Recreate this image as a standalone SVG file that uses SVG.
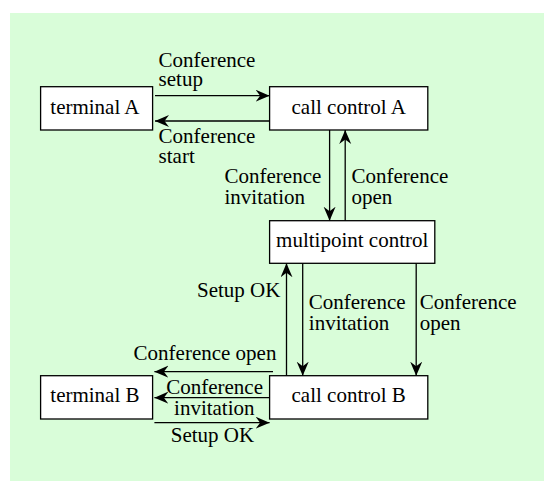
<svg xmlns="http://www.w3.org/2000/svg" width="544" height="481" viewBox="0 0 544 481">
<defs>
<style>
.bg{fill:#d9fdd9}
.box{fill:#fff;stroke:#000;stroke-width:1.3}
.c{stroke:#000;stroke-width:1.3;fill:none;marker-end:url(#ah)}
</style>
<marker id="ah" markerUnits="userSpaceOnUse" markerWidth="15" markerHeight="13" refX="14" refY="6" orient="auto">
<path d="M0,0 L14,6 L0,12 L4.5,6 z" fill="#000"/>
</marker>
</defs>
<rect class="bg" x="10" y="13" width="534" height="468"/>
<g font-family="Liberation Serif, Times New Roman, Times, serif" font-size="21" fill="#000">
<g id="terminalA"><rect class="box" x="40.6" y="86.7" width="112" height="43.3"/><text x="50.3" y="113.5">terminal A</text></g>
<g id="callControlA"><rect class="box" x="269.6" y="86.7" width="158.2" height="43.3"/><text x="348.7" y="113.5" text-anchor="middle">call control A</text></g>
<g id="multipointControl"><rect class="box" x="269.6" y="220.7" width="165.2" height="42.6"/><text x="352.2" y="247" text-anchor="middle">multipoint control</text></g>
<g id="terminalB"><rect class="box" x="40.6" y="375.7" width="112" height="43.3"/><text x="50.3" y="402">terminal B</text></g>
<g id="callControlB"><rect class="box" x="269.6" y="375.7" width="158.2" height="43.3"/><text x="348.7" y="402" text-anchor="middle">call control B</text></g>
</g>
<g id="connectors">
<line class="c" x1="155" y1="95.7" x2="269.6" y2="95.7"/>
<line class="c" x1="269.6" y1="121" x2="155" y2="121"/>
<line class="c" x1="329.6" y1="130" x2="329.6" y2="220.7"/>
<line class="c" x1="345.2" y1="220.7" x2="345.2" y2="130"/>
<line class="c" x1="286.5" y1="375.7" x2="286.5" y2="263.3"/>
<line class="c" x1="302.7" y1="263.3" x2="302.7" y2="375.7"/>
<line class="c" x1="416.2" y1="263.3" x2="416.2" y2="375.7"/>
<line class="c" x1="273" y1="371.7" x2="154.4" y2="371.7"/>
<line class="c" x1="269.6" y1="397.7" x2="154.4" y2="397.7"/>
<line class="c" x1="154.4" y1="422.7" x2="269.6" y2="422.7"/>
</g>
<g id="labels" font-family="Liberation Serif, Times New Roman, Times, serif" font-size="21" fill="#000">
<text x="158.6" y="66.5">Conference</text>
<text x="158.6" y="86">setup</text>
<text x="158.6" y="142.5">Conference</text>
<text x="158.6" y="163">start</text>
<text x="224.5" y="183">Conference</text>
<text x="224.5" y="204">invitation</text>
<text x="351.5" y="183">Conference</text>
<text x="351.5" y="204">open</text>
<text x="197" y="296.5">Setup OK</text>
<text x="308.8" y="308.5">Conference</text>
<text x="308.8" y="330">invitation</text>
<text x="419.8" y="308.5">Conference</text>
<text x="419.8" y="330">open</text>
<text x="133.6" y="360">Conference open</text>
<text x="214.6" y="394" text-anchor="middle">Conference</text>
<text x="214.3" y="415" text-anchor="middle">invitation</text>
<text x="212.5" y="441.5" text-anchor="middle">Setup OK</text>
</g>
</svg>
